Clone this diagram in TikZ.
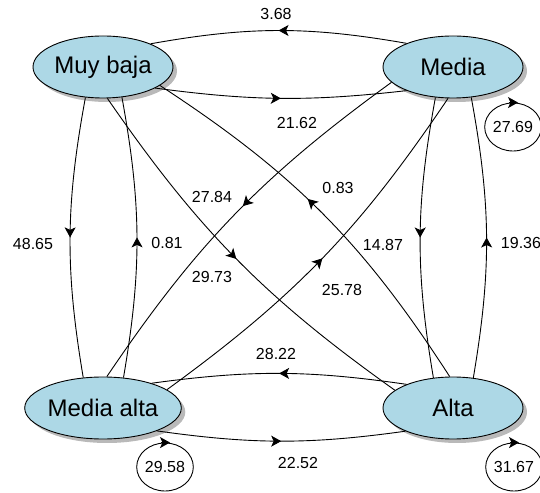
\documentclass[tikz,border=0pt]{standalone}
\usepackage{fontspec}
\setmainfont{Liberation Sans}
\usetikzlibrary{shapes.geometric,arrows.meta,decorations.markings,shadows}
\definecolor{stfill}{RGB}{173,216,230}
\definecolor{shgray}{RGB}{185,185,185}
\tikzset{
  state/.style={ellipse, draw=black, line width=0.9pt, fill=stfill,
    minimum width=140pt, minimum height=62pt, inner sep=0pt,
    font=\fontsize{24}{28}\selectfont,
    drop shadow={shadow xshift=4pt, shadow yshift=-4pt, fill=shgray, opacity=1}},
  lbl/.style={font=\fontsize{16}{18}\selectfont, inner sep=0pt},
  loopc/.style={ellipse, draw=black, line width=0.9pt, minimum width=54pt,
    minimum height=48pt, inner sep=0pt, font=\fontsize{16}{18}\selectfont},
  conn/.style={line width=0.9pt, postaction={decorate},
    decoration={markings, mark=at position #1 with
      {\arrow{Stealth[length=10pt,width=11pt,inset=2.5pt]}}}},
  conn/.default=0.5,
  looparrow/.style={line width=0.9pt, -{Stealth[length=10pt,width=11pt,inset=2.5pt]}}
}
\begin{document}
\begin{tikzpicture}[x=1pt,y=1pt]
\useasboundingbox (0,0) rectangle (540,492);
% states
\node[state] (mb) at (103,425) {Muy baja};
\node[state] (me) at (453,425) {Media};
\node[state] (ma) at (103,84) {Media alta};
\node[state] (al) at (453,84) {Alta};
% connectors
\draw[conn] (me.153) to[bend right=10] (mb.26);
\draw[conn] (mb.-22) to[bend right=7] (me.-153);
\draw[conn] (mb.-120) to[bend right=10] (ma.123);
\draw[conn] (ma.56) to[bend right=10] (mb.-58);
\draw[conn] (mb.-82) to[bend right=10] (al.163);
\draw[conn=0.55] (al.96) to[bend right=12] (mb.-18);
\draw[conn=0.47] (me.194) to[bend right=10] (ma.83);
\draw[conn] (ma.16) to[bend right=10] (me.261);
\draw[conn] (me.240) to[bend right=10] (al.123);
\draw[conn] (al.56) to[bend right=10] (me.-59);
\draw[conn] (al.153) to[bend right=8] (ma.27);
\draw[conn] (ma.-23) to[bend right=8] (al.206);
% self loops
\node[loopc] (lme) at (513,365) {27.69};
\node[loopc] (lal) at (514,25) {31.67};
\node[loopc] (lma) at (165,25) {29.58};
\draw[looparrow] ([xshift=-4pt]lme.north) -- ([xshift=5pt]lme.north);
\draw[looparrow] ([xshift=-4pt]lal.north) -- ([xshift=5pt]lal.north);
\draw[looparrow] ([xshift=-4pt]lma.north) -- ([xshift=5pt]lma.north);
% labels
\node[lbl] (t1) at (276,478) {3.68};
\node[lbl] (t2) at (297,369) {21.62};
\node[lbl] (t3) at (33,248) {48.65};
\node[lbl] (t4) at (167,249) {0.81};
\node[lbl] (t5) at (212,295) {27.84};
\node[lbl] (t6) at (338,304) {0.83};
\node[lbl] (t7) at (383,247) {14.87};
\node[lbl] (t8) at (521,249) {19.36};
\node[lbl] (t9) at (212,215) {29.73};
\node[lbl] (t10) at (342,202) {25.78};
\node[lbl] (t11) at (276,138) {28.22};
\node[lbl] (t12) at (298,29) {22.52};
\end{tikzpicture}
\end{document}
